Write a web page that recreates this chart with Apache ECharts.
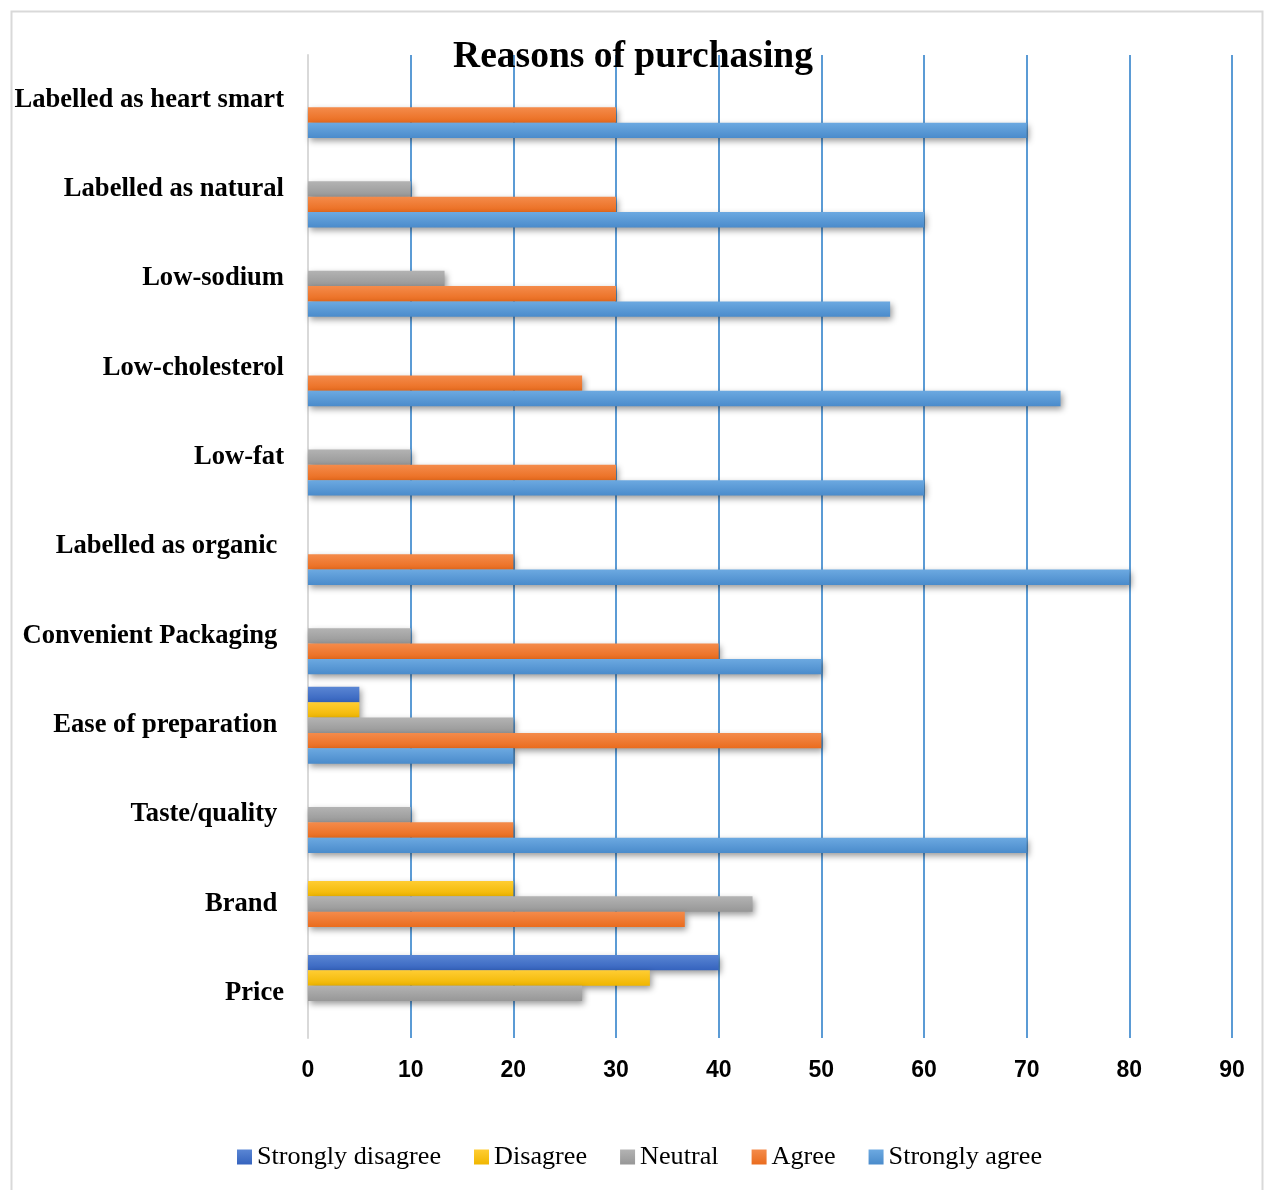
<!DOCTYPE html>
<html>
<head>
<meta charset="utf-8">
<script src="https://cdn.jsdelivr.net/npm/echarts@6/dist/echarts.min.js"></script>
<style>
html,body{margin:0;padding:0;background:#fff;}
#chart{width:1266px;height:1190px;}
</style>
</head>
<body>
<div id="chart"></div>
<script>
// Categories listed bottom to top (as they appear on the y axis)
const categories = ['Price', 'Brand ', 'Taste/quality ', 'Ease of preparation ', 'Convenient Packaging ',
  'Labelled as organic ', 'Low-fat', 'Low-cholesterol', 'Low-sodium', 'Labelled as natural', 'Labelled as heart smart'];
const seriesNames = ['Strongly disagree', 'Disagree', 'Neutral', 'Agree', 'Strongly agree'];
const stronglyDisagree = [40, 0, 0, 5, 0, 0, 0, 0, 0, 0, 0];
const disagree         = [33.3, 20, 0, 5, 0, 0, 0, 0, 0, 0, 0];
const neutral          = [26.7, 43.3, 10, 20, 10, 0, 10, 0, 13.3, 10, 0];
const agree            = [0, 36.7, 20, 50, 40, 20, 30, 26.7, 30, 30, 30];
const stronglyAgree    = [0, 0, 70, 20, 50, 80, 60, 73.3, 56.7, 60, 70];
const xTicks = [0, 10, 20, 30, 40, 50, 60, 70, 80, 90];

const seriesValues = [stronglyDisagree, disagree, neutral, agree, stronglyAgree];
const gradients = [
  ['#5A86D4', '#3563BE'],
  ['#FFCD33', '#F0B600'],
  ['#B3B3B3', '#979797'],
  ['#F48B4B', '#EA6C1E'],
  ['#6CA9E1', '#4A8BCB']
];
function grad(c) {
  return new echarts.graphic.LinearGradient(0, 0, 0, 1, [
    {offset: 0, color: c[0]}, {offset: 1, color: c[1]}
  ]);
}

const chart = echarts.init(document.getElementById('chart'), null, {renderer: 'canvas'});
const option = {
  animation: false,
  backgroundColor: '#ffffff',
  title: {
    text: 'Reasons of purchasing',
    left: 'center',
    top: 38,
    padding: 0,
    textStyle: {fontFamily: 'Liberation Serif', fontWeight: 'bold', fontSize: 37.5, color: '#000'}
  },
  legend: {
    data: seriesNames,
    left: 237,
    top: 1144,
    padding: 0,
    itemGap: 33,
    itemWidth: 15,
    itemHeight: 15,
    icon: 'rect',
    textStyle: {fontFamily: 'Liberation Serif', fontSize: 26.2, color: '#000'}
  },
  grid: {left: 308, right: 34, top: 55, bottom: 152, containLabel: false},
  xAxis: {
    type: 'value',
    min: xTicks[0],
    max: xTicks[xTicks.length - 1],
    interval: 10,
    axisLine: {show: false},
    axisTick: {show: false},
    axisLabel: {margin: 21, fontFamily: "'Liberation Sans Narrow', 'Liberation Sans', sans-serif", fontWeight: 'bold', fontSize: 23, color: '#000'},
    splitLine: {show: true, showMinLine: false, lineStyle: {color: '#5B9BD5', width: 2}}
  },
  yAxis: {
    type: 'category',
    data: categories,
    axisLine: {show: true, lineStyle: {color: '#D9D9D9', width: 2}},
    axisTick: {show: false},
    axisLabel: {margin: 24, padding: [4, 0, 0, 0], fontFamily: 'Liberation Serif', fontWeight: 'bold', fontSize: 26.6, color: '#000'},
    splitLine: {show: false}
  },
  graphic: [{
    type: 'rect',
    left: 9, top: 9,
    shape: {width: 1251, height: 1200},
    style: {fill: 'none', stroke: '#D9D9D9', lineWidth: 2},
    silent: true, z: -1
  }],
  series: seriesNames.map((name, i) => ({
    name: name,
    type: 'bar',
    data: seriesValues[i],
    barGap: '0%',
    barCategoryGap: '14%',
    itemStyle: {
      color: grad(gradients[i]),
      shadowColor: 'rgba(0,0,0,0.4)',
      shadowBlur: 6,
      shadowOffsetX: 2,
      shadowOffsetY: 3
    }
  }))
};
chart.setOption(option);
</script>
</body>
</html>
